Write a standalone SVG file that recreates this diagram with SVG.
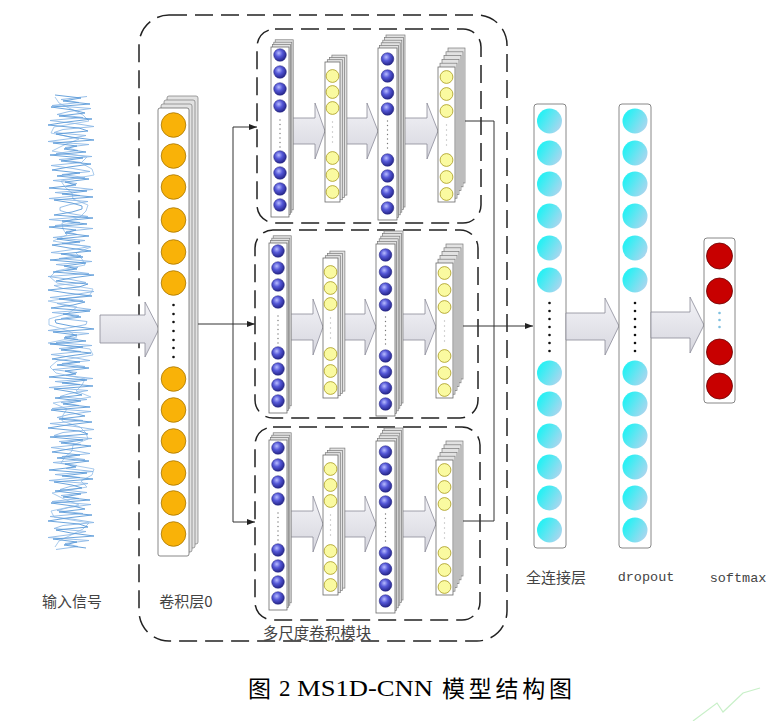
<svg xmlns="http://www.w3.org/2000/svg" xmlns:xlink="http://www.w3.org/1999/xlink" width="777" height="721" viewBox="0 0 777 721">
<style>
.lay{fill:#fff;stroke:#6a6a6a;stroke-width:0.8}
.back{fill:#e2e2e2;stroke:#7a7a7a;stroke-width:0.7}
.blue{fill:url(#gBlue);stroke:#2a2a80;stroke-width:0.5}
.yel{fill:#fafaa0;stroke:#a89a20;stroke-width:0.8}
.org{fill:#f9b208;stroke:#a87600;stroke-width:0.8}
.cyan{fill:url(#gCyan)}
.red{fill:#c80000;stroke:#6a0000;stroke-width:0.8}
.dash{fill:none;stroke:#222;stroke-width:1.5;stroke-dasharray:18 8}
.blk{fill:url(#gArrow);stroke:#8a8a98;stroke-width:0.8}
.conn{fill:none;stroke:#333;stroke-width:1}
.dot{fill:#777}
.fdot{fill:#bbb}
.kdot{fill:#111}
.lbl{font-family:"Noto Sans CJK SC",sans-serif;font-size:15px;fill:#444;text-anchor:middle}
.mono{font-family:"Liberation Mono",monospace;font-size:13.5px;fill:#444;text-anchor:middle}
</style>
<defs>
<radialGradient id="gBlue" cx="0.4" cy="0.35" r="0.65"><stop offset="0" stop-color="#b8bcff"/><stop offset="0.45" stop-color="#5558d8"/><stop offset="1" stop-color="#25258a"/></radialGradient>
<linearGradient id="gCyan" x1="0.15" y1="0.3" x2="1" y2="0.8"><stop offset="0" stop-color="#2cf0f4"/><stop offset="1" stop-color="#b4d4ee"/></linearGradient>
<linearGradient id="gArrow" x1="0" y1="0" x2="0" y2="1"><stop offset="0" stop-color="#f3f3f7"/><stop offset="1" stop-color="#d6d6de"/></linearGradient>
<marker id="ah" markerWidth="8" markerHeight="6" refX="8" refY="3" orient="auto" markerUnits="userSpaceOnUse"><path d="M0,0 L8,3 L0,6 z" fill="#222"/></marker>
<path id="waveA" fill="none" stroke-linejoin="round" d="M62,95 L88,98 70,101 97,104 58,107 80,110 92,113 66,116 99,119 74,122 55,125 86,128 95,131 63,134 78,137 101,140 60,143 84,146 71,149 93,152 57,155 90,158 68,161 98,164 76,167 59,170 87,173 64,176 96,179 72,182 83,185 56,188 94,191 69,194 100,197 61,200 79,203 89,206 89,209 79,212 61,215 100,218 69,221 94,224 56,227 83,230 72,233 96,236 64,239 87,242 59,245 76,248 98,251 68,254 90,257 57,260 93,263 71,266 84,269 60,272 101,275 78,278 63,281 95,284 86,287 55,290 74,293 99,296 66,299 92,302 80,305 58,308 97,311 70,314 88,317 62,320 63,323 78,326 101,329 60,332 84,335 71,338 93,341 57,344 90,347 68,350 98,353 76,356 59,359 87,362 64,365 96,368 72,371 83,374 56,377 94,380 69,383 100,386 61,389 79,392 89,395 62,398 88,401 70,404 97,407 58,410 80,413 92,416 66,419 99,422 74,425 55,428 86,431 95,434 57,437 90,440 68,443 98,446 76,449 59,452 87,455 64,458 96,461 72,464 83,467 56,470 94,473 69,476 100,479 61,482 79,485 89,488 62,491 88,494 70,497 97,500 58,503 80,506 92,509 66,512 99,515 74,518 55,521 86,524 95,527 63,530 78,533 101,536 60,539 84,542 71,545 93,548"/>
<g id="modInner">
 <polygon class="blk" points="289,118 315,118 315,103 325,131 315,159 315,144 289,144"/>
 <polygon class="blk" points="340,118 367,118 367,103 378,131 367,159 367,144 340,144"/>
 <polygon class="blk" points="400,118 427,118 427,103 438,131 427,159 427,144 400,144"/>
 <rect class="back" x="275.2" y="39.8" width="18" height="170"/>
 <rect class="back" x="273.8" y="42.2" width="18" height="170"/>
 <rect class="back" x="272.4" y="44.6" width="18" height="170"/>
 <rect class="lay" x="271" y="47" width="18" height="170"/>
 <circle class="blue" cx="280" cy="55" r="6.3"/><circle class="blue" cx="280" cy="72" r="6.3"/><circle class="blue" cx="280" cy="89" r="6.3"/><circle class="blue" cx="280" cy="106" r="6.3"/>
 <circle class="blue" cx="280" cy="157" r="6.3"/><circle class="blue" cx="280" cy="173" r="6.3"/><circle class="blue" cx="280" cy="189" r="6.3"/><circle class="blue" cx="280" cy="205" r="6.3"/>
 <circle class="dot" cx="280" cy="120" r="0.7"/><circle class="dot" cx="280" cy="124.5" r="0.7"/><circle class="dot" cx="280" cy="129" r="0.7"/><circle class="dot" cx="280" cy="133.5" r="0.7"/><circle class="dot" cx="280" cy="138" r="0.7"/><circle class="dot" cx="280" cy="142.5" r="0.7"/><circle class="dot" cx="280" cy="147" r="0.7"/>
 <rect class="back" x="331.9" y="55.1" width="15" height="140"/>
 <rect class="back" x="329.6" y="57.4" width="15" height="140"/>
 <rect class="back" x="327.3" y="59.7" width="15" height="140"/>
 <rect class="lay" x="325" y="62" width="15" height="140"/>
 <circle class="yel" cx="332.5" cy="76" r="6.4"/><circle class="yel" cx="332.5" cy="92" r="6.4"/><circle class="yel" cx="332.5" cy="108" r="6.4"/>
 <circle class="yel" cx="332.5" cy="158" r="6.4"/><circle class="yel" cx="332.5" cy="175" r="6.4"/><circle class="yel" cx="332.5" cy="192" r="6.4"/>
 <circle class="fdot" cx="332.5" cy="122" r="0.7"/><circle class="fdot" cx="332.5" cy="127" r="0.7"/><circle class="fdot" cx="332.5" cy="132" r="0.7"/><circle class="fdot" cx="332.5" cy="137" r="0.7"/><circle class="fdot" cx="332.5" cy="142" r="0.7"/>
 <rect class="back" x="386" y="35" width="19" height="172"/>
 <rect class="back" x="384.4" y="37.6" width="19" height="172"/>
 <rect class="back" x="382.8" y="40.2" width="19" height="172"/>
 <rect class="back" x="381.2" y="42.8" width="19" height="172"/>
 <rect class="back" x="379.6" y="45.4" width="19" height="172"/>
 <rect class="lay" x="378" y="48" width="19" height="172"/>
 <circle class="blue" cx="387.5" cy="59" r="6.3"/><circle class="blue" cx="387.5" cy="76" r="6.3"/><circle class="blue" cx="387.5" cy="93" r="6.3"/><circle class="blue" cx="387.5" cy="109" r="6.3"/>
 <circle class="blue" cx="387.5" cy="160" r="6.3"/><circle class="blue" cx="387.5" cy="176" r="6.3"/><circle class="blue" cx="387.5" cy="192" r="6.3"/><circle class="blue" cx="387.5" cy="208" r="6.3"/>
 <circle class="dot" cx="387.5" cy="121" r="0.7"/><circle class="dot" cx="387.5" cy="125.5" r="0.7"/><circle class="dot" cx="387.5" cy="130" r="0.7"/><circle class="dot" cx="387.5" cy="134.5" r="0.7"/><circle class="dot" cx="387.5" cy="139" r="0.7"/><circle class="dot" cx="387.5" cy="143.5" r="0.7"/><circle class="dot" cx="387.5" cy="148" r="0.7"/>
 <rect class="back" x="448" y="48" width="17" height="135"/>
 <rect class="back" x="446" y="51.8" width="17" height="135"/>
 <rect class="back" x="444" y="55.6" width="17" height="135"/>
 <rect class="back" x="442" y="59.4" width="17" height="135"/>
 <rect class="back" x="440" y="63.2" width="17" height="135"/>
 <rect class="lay" x="438" y="67" width="17" height="135"/>
 <circle class="yel" cx="446.5" cy="77" r="6.4"/><circle class="yel" cx="446.5" cy="94" r="6.4"/><circle class="yel" cx="446.5" cy="111" r="6.4"/>
 <circle class="yel" cx="446.5" cy="160" r="6.4"/><circle class="yel" cx="446.5" cy="177" r="6.4"/><circle class="yel" cx="446.5" cy="194" r="6.4"/>
 <circle class="fdot" cx="446.5" cy="125" r="0.7"/><circle class="fdot" cx="446.5" cy="130" r="0.7"/><circle class="fdot" cx="446.5" cy="135" r="0.7"/><circle class="fdot" cx="446.5" cy="140" r="0.7"/><circle class="fdot" cx="446.5" cy="145" r="0.7"/>
</g>
</defs>
<rect x="0" y="0" width="777" height="721" fill="#fff"/>

<g id="input-signal" transform="translate(-7,0)">
<path fill="none" stroke="#a9cbed" stroke-width="1" stroke-linejoin="round" d="M62,97 L66,103 78,109 90,115 96,121 61,127 58,133 86,139 71,145 59,151 94,157 88,163 99,169 101,175 68,181 72,187 79,193 80,199 95,205 93,211 87,217 69,223 70,229 74,235 60,241 98,247 83,253 89,259 92,265 63,271 57,277 64,283 100,289 97,295 55,301 84,307 76,313 56,319 56,325 76,331 84,337 55,343 97,349 100,355 64,361 57,367 63,373 92,379 89,385 83,391 98,397 60,403 74,409 70,415 69,421 87,427 93,433 95,439 80,445 79,451 72,457 68,463 101,469 99,475 88,481 94,487 59,493 71,499 86,505 58,511 61,517 96,523 90,529 78,535 66,541 62,547"/>
<use xlink:href="#waveA" href="#waveA" stroke="#8bb8e6" stroke-width="0.9" transform="matrix(-1,0,0,1,156,1.5)"/>
<use xlink:href="#waveA" href="#waveA" stroke="#5a9ad8" stroke-width="0.9"/>
</g>

<g id="outer-module">
<rect class="dash" x="139" y="15" width="368" height="626" rx="30"/>
</g>

<g id="arrow-input">
<polygon class="blk" points="100,315 145,315 145,302 159,329 145,357 145,343 100,343"/>
</g>

<g id="conv0">
<rect class="back" x="167" y="96" width="31" height="448" rx="2"/>
<rect class="back" x="164" y="100" width="31" height="448" rx="2"/>
<rect class="back" x="161" y="104" width="31" height="448" rx="2"/>
<rect class="lay" x="158" y="108" width="31" height="448" rx="2"/>
<circle class="org" cx="173.5" cy="125" r="12.3"/><circle class="org" cx="173.5" cy="156" r="12.3"/><circle class="org" cx="173.5" cy="187" r="12.3"/><circle class="org" cx="173.5" cy="220" r="12.3"/><circle class="org" cx="173.5" cy="252" r="12.3"/><circle class="org" cx="173.5" cy="283" r="12.3"/>
<circle class="org" cx="173.5" cy="379" r="12.3"/><circle class="org" cx="173.5" cy="410" r="12.3"/><circle class="org" cx="173.5" cy="441" r="12.3"/><circle class="org" cx="173.5" cy="473" r="12.3"/><circle class="org" cx="173.5" cy="503" r="12.3"/><circle class="org" cx="173.5" cy="534" r="12.3"/>
<circle class="kdot" cx="173.5" cy="305" r="1.3"/><circle class="kdot" cx="173.5" cy="314" r="1.3"/><circle class="kdot" cx="173.5" cy="322" r="1.3"/><circle class="kdot" cx="173.5" cy="331" r="1.3"/><circle class="kdot" cx="173.5" cy="340" r="1.3"/><circle class="kdot" cx="173.5" cy="348" r="1.3"/><circle class="kdot" cx="173.5" cy="357" r="1.3"/>
</g>

<g id="ms-module-1">
<rect class="dash" x="257" y="29" width="224" height="194" rx="18"/>
<use xlink:href="#modInner" href="#modInner"/>
</g>
<g id="ms-module-2">
<rect class="dash" x="255" y="230" width="223" height="188" rx="18"/>
<use xlink:href="#modInner" href="#modInner" transform="translate(-2,196)"/>
</g>
<g id="ms-module-3">
<rect class="dash" x="255" y="427" width="225" height="193" rx="18"/>
<use xlink:href="#modInner" href="#modInner" transform="translate(-2,393)"/>
</g>

<g id="connectors">
<path class="conn" d="M198,324 H255" marker-end="url(#ah)"/>
<path class="conn" d="M233,127 V522"/>
<path class="conn" d="M233,127 H257" marker-end="url(#ah)"/>
<path class="conn" d="M233,522 H255" marker-end="url(#ah)"/>
<path class="conn" d="M465,121 H494 V521 H463"/>
<path class="conn" d="M463,326 H533" marker-end="url(#ah)"/>
</g>

<g id="fc">
<rect class="lay" x="534" y="104" width="32" height="444" rx="3"/>
<circle class="cyan" cx="549.5" cy="121" r="12.5"/><circle class="cyan" cx="549.5" cy="153" r="12.5"/><circle class="cyan" cx="549.5" cy="184" r="12.5"/><circle class="cyan" cx="549.5" cy="216" r="12.5"/><circle class="cyan" cx="549.5" cy="248" r="12.5"/><circle class="cyan" cx="549.5" cy="280" r="12.5"/>
<circle class="cyan" cx="549.5" cy="373" r="12.5"/><circle class="cyan" cx="549.5" cy="404" r="12.5"/><circle class="cyan" cx="549.5" cy="436" r="12.5"/><circle class="cyan" cx="549.5" cy="467" r="12.5"/><circle class="cyan" cx="549.5" cy="498" r="12.5"/><circle class="cyan" cx="549.5" cy="530" r="12.5"/>
<circle class="kdot" cx="549.5" cy="303" r="1.3"/><circle class="kdot" cx="549.5" cy="311" r="1.3"/><circle class="kdot" cx="549.5" cy="319" r="1.3"/><circle class="kdot" cx="549.5" cy="327" r="1.3"/><circle class="kdot" cx="549.5" cy="335" r="1.3"/><circle class="kdot" cx="549.5" cy="343" r="1.3"/><circle class="kdot" cx="549.5" cy="351" r="1.3"/>
</g>

<g id="arrow-fc-dropout">
<polygon class="blk" points="566,313 605,313 605,298 619,326 605,355 605,340 566,340"/>
</g>

<g id="dropout">
<rect class="lay" x="619" y="104" width="32" height="444" rx="3"/>
<circle class="cyan" cx="635" cy="121" r="12.5"/><circle class="cyan" cx="635" cy="153" r="12.5"/><circle class="cyan" cx="635" cy="184" r="12.5"/><circle class="cyan" cx="635" cy="216" r="12.5"/><circle class="cyan" cx="635" cy="248" r="12.5"/><circle class="cyan" cx="635" cy="280" r="12.5"/>
<circle class="cyan" cx="635" cy="373" r="12.5"/><circle class="cyan" cx="635" cy="404" r="12.5"/><circle class="cyan" cx="635" cy="436" r="12.5"/><circle class="cyan" cx="635" cy="467" r="12.5"/><circle class="cyan" cx="635" cy="498" r="12.5"/><circle class="cyan" cx="635" cy="530" r="12.5"/>
<circle class="kdot" cx="635" cy="303" r="1.3"/><circle class="kdot" cx="635" cy="311" r="1.3"/><circle class="kdot" cx="635" cy="319" r="1.3"/><circle class="kdot" cx="635" cy="327" r="1.3"/><circle class="kdot" cx="635" cy="335" r="1.3"/><circle class="kdot" cx="635" cy="343" r="1.3"/><circle class="kdot" cx="635" cy="351" r="1.3"/>
</g>

<g id="arrow-dropout-softmax">
<polygon class="blk" points="651,312 690,312 690,297 704,325 690,353 690,338 651,338"/>
</g>

<g id="softmax">
<rect class="lay" x="704" y="238" width="31" height="165" rx="3"/>
<circle class="red" cx="719.5" cy="256" r="13"/><circle class="red" cx="719.5" cy="291" r="13"/><circle class="red" cx="719.5" cy="352" r="13"/><circle class="red" cx="719.5" cy="386" r="13"/>
<circle cx="719.5" cy="313" r="1.3" fill="#7fc0e0"/><circle cx="719.5" cy="320" r="1.3" fill="#7fc0e0"/><circle cx="719.5" cy="327" r="1.3" fill="#7fc0e0"/>
</g>

<g id="labels">
<text class="lbl" x="72" y="607">输入信号</text>
<text class="lbl" x="186" y="607">卷积层0</text>
<text class="lbl" x="317" y="639" style="font-size:15.5px">多尺度卷积模块</text>
<text class="lbl" x="556" y="583">全连接层</text>
<text class="mono" x="646" y="581">dropout</text>
<text class="mono" x="738" y="582">softmax</text>
</g>

<g id="caption" font-family="'Liberation Serif','Noto Sans CJK SC',serif" fill="#000">
<text x="248" y="697" font-family="'Noto Sans CJK SC',sans-serif" font-size="23">图</text>
<text x="279" y="696" font-size="23">2</text>
<text x="297" y="696" font-size="23" textLength="136" lengthAdjust="spacingAndGlyphs">MS1D-CNN</text>
<text x="442" y="697" font-family="'Noto Sans CJK SC',sans-serif" font-size="23" textLength="130">模型结构图</text>
</g>

<g id="corner-mark">
<polyline points="693,721 717,703 723,712 743,693 760,688" fill="none" stroke="#c8f0c8" stroke-width="1.2"/>
</g>
</svg>
